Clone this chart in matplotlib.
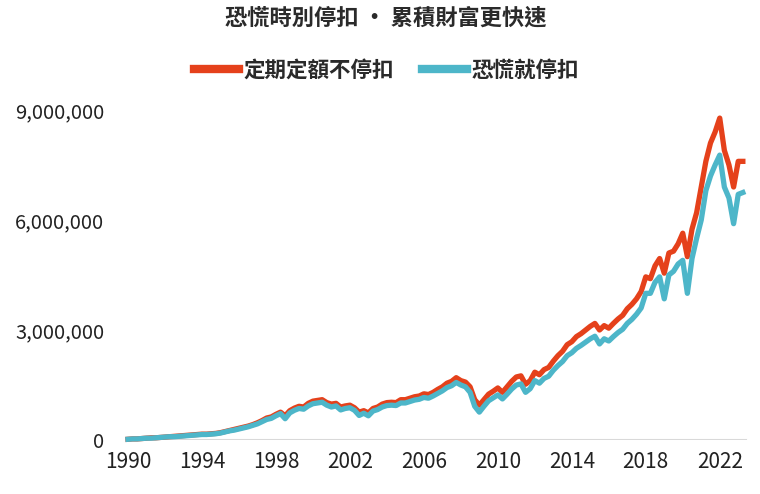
import numpy as np
import matplotlib
matplotlib.use("Agg")
import matplotlib.pyplot as plt
from matplotlib.ticker import FuncFormatter

plt.rcParams["font.family"] = ["Noto Sans CJK TC", "DejaVu Sans"]

# --------------------
# Data (quarterly, in millions)
# --------------------

TITLE = "恐慌時別停扣 · 累積財富更快速"
LABEL_KEEP = "定期定額不停扣"
LABEL_PANIC = "恐慌就停扣"

START_YEAR = 1990

keep_investing = [
    0.02, 0.03, 0.03, 0.04,   # 1990
    0.05, 0.06, 0.06, 0.07,   # 1991
    0.08, 0.09, 0.10, 0.11,   # 1992
    0.12, 0.13, 0.14, 0.15,   # 1993
    0.16, 0.16, 0.17, 0.18,   # 1994
    0.20, 0.23, 0.26, 0.29,   # 1995
    0.32, 0.35, 0.38, 0.42,   # 1996
    0.47, 0.53, 0.60, 0.63,   # 1997
    0.70, 0.76, 0.66, 0.80,   # 1998
    0.87, 0.92, 0.90, 1.00,   # 1999
    1.06, 1.08, 1.10, 1.02,   # 2000
    0.98, 1.00, 0.90, 0.93,   # 2001
    0.95, 0.88, 0.76, 0.80,   # 2002
    0.74, 0.86, 0.90, 0.98,   # 2003
    1.02, 1.03, 1.02, 1.10,   # 2004
    1.10, 1.14, 1.18, 1.20,   # 2005
    1.26, 1.24, 1.30, 1.38,   # 2006
    1.45, 1.55, 1.60, 1.70,   # 2007
    1.62, 1.58, 1.45, 1.10,   # 2008
    0.95, 1.10, 1.25, 1.33,   # 2009
    1.42, 1.30, 1.45, 1.60,   # 2010
    1.72, 1.75, 1.52, 1.62,   # 2011
    1.85, 1.78, 1.92, 1.98,   # 2012
    2.15, 2.30, 2.42, 2.60,   # 2013
    2.68, 2.82, 2.90, 3.00,   # 2014
    3.10, 3.18, 3.00, 3.12,   # 2015
    3.05, 3.18, 3.30, 3.40,   # 2016
    3.58, 3.70, 3.85, 4.05,   # 2017
    4.45, 4.40, 4.75, 4.95,   # 2018
    4.55, 5.10, 5.15, 5.35,   # 2019
    5.64, 5.00, 5.75, 6.20,   # 2020
    6.90, 7.60, 8.10, 8.40,   # 2021
    8.78, 7.90, 7.50, 6.90,   # 2022
    7.60, 7.60,               # 2023
]

panic_stop = [
    0.02, 0.03, 0.03, 0.04,   # 1990
    0.05, 0.05, 0.06, 0.07,   # 1991
    0.08, 0.09, 0.09, 0.10,   # 1992
    0.11, 0.12, 0.13, 0.14,   # 1993
    0.15, 0.15, 0.16, 0.17,   # 1994
    0.19, 0.22, 0.25, 0.27,   # 1995
    0.30, 0.33, 0.36, 0.40,   # 1996
    0.44, 0.50, 0.56, 0.59,   # 1997
    0.66, 0.72, 0.58, 0.74,   # 1998
    0.81, 0.86, 0.84, 0.93,   # 1999
    0.99, 1.01, 1.03, 0.95,   # 2000
    0.90, 0.93, 0.82, 0.86,   # 2001
    0.88, 0.81, 0.67, 0.73,   # 2002
    0.66, 0.79, 0.83, 0.90,   # 2003
    0.94, 0.95, 0.94, 1.01,   # 2004
    1.01, 1.05, 1.09, 1.11,   # 2005
    1.16, 1.14, 1.20, 1.27,   # 2006
    1.34, 1.43, 1.48, 1.57,   # 2007
    1.50, 1.45, 1.30, 0.92,   # 2008
    0.76, 0.92, 1.07, 1.15,   # 2009
    1.23, 1.12, 1.25, 1.39,   # 2010
    1.50, 1.53, 1.30, 1.40,   # 2011
    1.62, 1.55, 1.68, 1.74,   # 2012
    1.90, 2.03, 2.14, 2.30,   # 2013
    2.38, 2.50, 2.58, 2.67,   # 2014
    2.76, 2.83, 2.62, 2.76,   # 2015
    2.70, 2.82, 2.93, 3.02,   # 2016
    3.18, 3.29, 3.43, 3.60,   # 2017
    4.00, 4.00, 4.30, 4.45,   # 2018
    3.85, 4.50, 4.60, 4.80,   # 2019
    4.90, 4.00, 4.95, 5.50,   # 2020
    6.00, 6.80, 7.20, 7.50,   # 2021
    7.77, 6.90, 6.60, 5.90,   # 2022
    6.70, 6.75,               # 2023
]

year_ticks = [1990, 1994, 1998, 2002, 2006, 2010, 2014, 2018, 2022]
value_ticks = [0, 3_000_000, 6_000_000, 9_000_000]

RED = "#E5411B"
TEAL = "#4DB6C9"

# --------------------
# Plot
# --------------------

years = START_YEAR + np.arange(len(keep_investing)) * 0.25
keep = np.array(keep_investing) * 1e6
panic = np.array(panic_stop) * 1e6

fig = plt.figure(figsize=(7.6, 4.94), dpi=100)
ax = fig.add_axes([0.1645, 0.1093, 0.8195, 0.668])

ax.axhline(0, color="#d9d9d9", linewidth=2.2, zorder=1,
           xmin=0.004, xmax=0.995)
ax.plot(years, keep, color=RED, linewidth=3.8, label=LABEL_KEEP,
        solid_joinstyle="round", zorder=2, clip_on=False)
ax.plot(years, panic, color=TEAL, linewidth=3.8, label=LABEL_PANIC,
        solid_joinstyle="round", zorder=3, clip_on=False)

ax.set_xlim(1989.84, 2023.52)
ax.set_ylim(0, 9_000_000)
ax.set_xticks(year_ticks)
ax.set_yticks(value_ticks)
ax.yaxis.set_major_formatter(FuncFormatter(lambda v, p: f"{int(v):,}"))
ax.tick_params(axis="both", length=0, colors="#222222")
ax.tick_params(axis="y", pad=15, labelsize=14.5)
ax.tick_params(axis="x", pad=8, labelsize=15)
for s in ax.spines.values():
    s.set_visible(False)

fig.text(0.508, 0.963, TITLE, ha="center", va="center",
         fontsize=16, fontweight="bold", color="#2a2a2a")

leg = fig.legend(loc="center", bbox_to_anchor=(0.508, 0.858), ncol=2,
                 frameon=False, handlelength=2.1,
                 handletextpad=0.2, columnspacing=1.3,
                 prop={"size": 15.5, "weight": "bold"})
for line in leg.get_lines():
    line.set_linewidth(6)
for t in leg.get_texts():
    t.set_color("#2a2a2a")

fig.savefig("out.png", dpi=100)
